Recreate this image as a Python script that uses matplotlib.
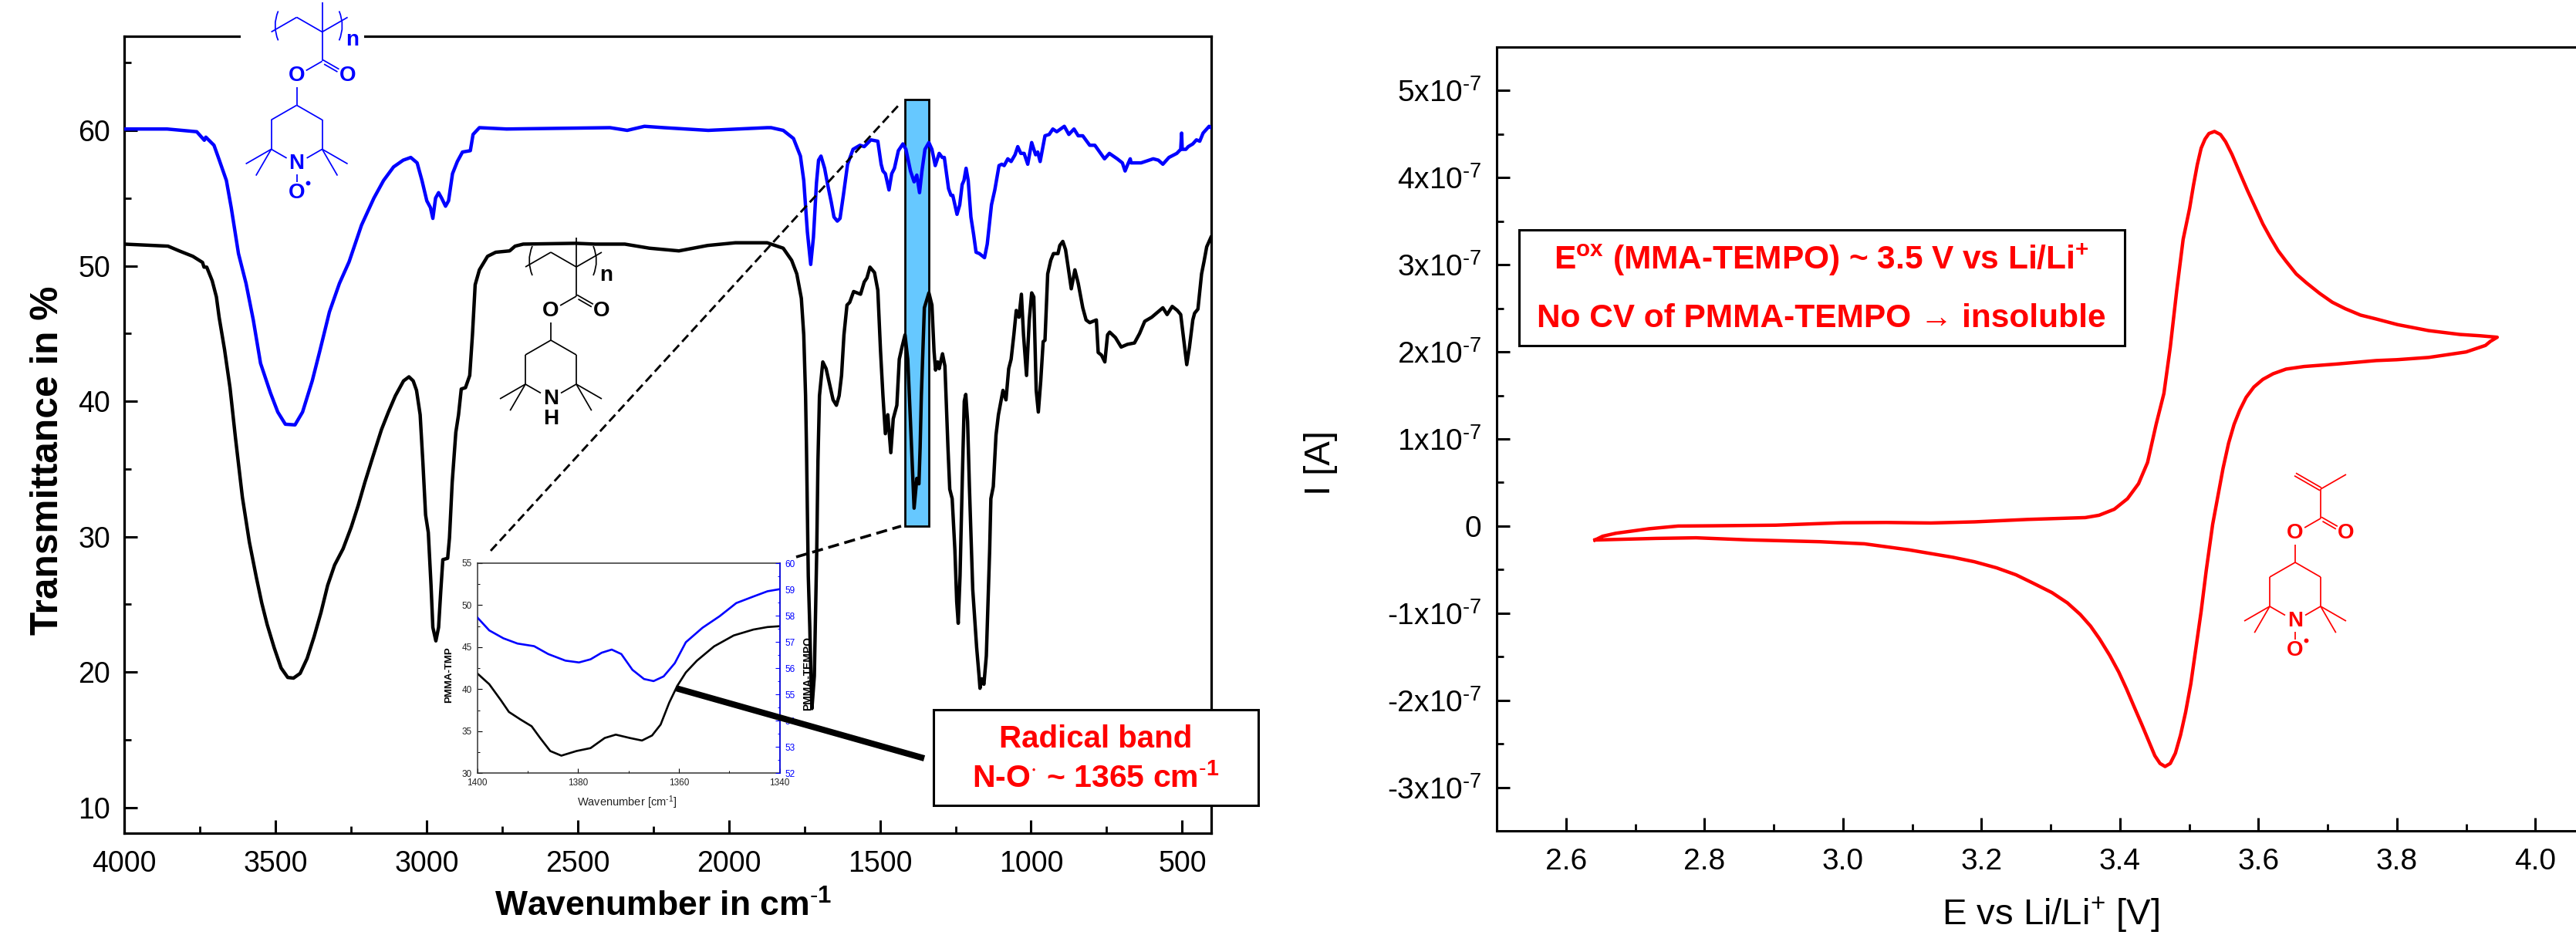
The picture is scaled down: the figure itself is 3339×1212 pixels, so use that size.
import numpy as np
import matplotlib
matplotlib.use("Agg")
import matplotlib.pyplot as plt
from matplotlib.patches import Rectangle, PathPatch
from matplotlib.path import Path
from matplotlib.ticker import MultipleLocator, FixedLocator

plt.rcParams['font.family'] = ['Liberation Sans', 'DejaVu Sans']
plt.rcParams['mathtext.fontset'] = 'custom'
plt.rcParams['mathtext.rm'] = 'Liberation Sans'
plt.rcParams['mathtext.bf'] = 'Liberation Sans:bold'
plt.rcParams['mathtext.it'] = 'Liberation Sans:italic'
plt.rcParams['mathtext.default'] = 'regular'

# ---------- IR spectrum data ----------
blue_wn = [4000,3858,3760,3735,3730,3703,3687,3662,3646,3622,3597,3573,3549,3516,3492,3467,3435,3410,3378,3353,
           3321,3288,3256,3215,3174,3142,3109,3077,3052,3031,3015,2999,2987,2979,2970,2960,2950,2937,2927,2914,
           2898,2881,2855,2846,2825,2735,2393,2336,2279,2215,2068,1873,1860,1820,1786,1763,1752,1740,1729,1720,
           1710,1703,1695,1683,1672,1661,1652,1641,1632,1621,1607,1589,1566,1552,1530,1507,1496,1490,1482,1470,
           1461,1452,1439,1424,1414,1399,1387,1378,1369,1361,1351,1338,1328,1317,1304,1294,1287,1273,1265,1259,
           1245,1236,1228,1222,1215,1208,1199,1190,1182,1171,1154,1145,1131,1120,1106,1097,1089,1077,1066,1053,
           1044,1034,1023,1011,998,985,978,970,954,940,928,915,890,875,858,844,829,806,789,757,741,715,698,689,
           680,672,669,636,596,579,564,544,518,505,502,500,488,480,465,453,442,431,419,411,405]
blue_t = [60.1,60.1,59.9,59.27,59.5,58.9,57.9,56.3,54.3,50.9,48.7,46.0,42.8,40.6,39.2,38.3,38.25,39.2,41.5,43.7,
          46.6,48.7,50.3,53.0,55.0,56.3,57.3,57.8,58.0,57.6,56.3,54.8,54.3,53.5,55.0,55.4,55.0,54.4,54.8,56.8,
          57.7,58.4,58.5,59.7,60.2,60.1,60.2,60.0,60.3,60.2,60.0,60.2,60.2,60.0,59.4,58.1,56.3,52.5,50.1,52.1,
          56.1,57.8,58.1,57.2,55.9,54.7,53.6,53.3,53.5,55.2,57.5,58.6,58.9,58.8,59.3,59.2,57.5,57.0,56.8,55.6,
          56.8,57.2,58.5,59.0,58.6,57.0,56.2,56.7,55.4,57.0,58.6,59.1,58.6,57.4,58.3,58.0,58.0,55.7,55.2,55.2,
          53.8,54.5,56.0,56.3,57.2,56.3,53.6,52.3,51.0,50.9,50.6,51.6,54.5,55.6,57.4,57.5,57.4,57.9,57.7,58.2,
          58.8,58.3,58.3,57.5,59.1,58.2,58.4,57.7,59.6,59.7,60.1,59.9,60.3,59.7,60.1,59.6,59.6,58.9,58.9,57.9,58.3,57.9,57.6,57.0,
          57.5,57.9,57.6,57.6,57.9,57.8,57.5,58.0,58.3,58.6,59.8,58.6,58.6,58.8,59.0,59.3,59.2,59.8,60.1,60.3,60.2]

black_wn = [4000,3855,3818,3773,3741,3736,3727,3709,3695,3686,3668,3650,3632,3609,3586,3563,3545,3527,3504,3481,
            3459,3440,3418,3395,3372,3349,3327,3304,3276,3249,3226,3204,3176,3149,3126,3103,3076,3058,3044,3033,
            3021,3012,3003,2994,2985,2979,2969,2960,2953,2946,2930,2924,2915,2903,2894,2885,2871,2857,2848,2839,
            2825,2798,2771,2725,2707,2680,2507,2442,2344,2263,2165,2070,1978,1873,1860,1820,1792,1775,1760,1752,
            1746,1743,1737,1732,1728,1725,1717,1709,1705,1700,1689,1678,1666,1655,1644,1635,1627,1619,1609,1600,
            1587,1564,1552,1543,1533,1518,1507,1498,1490,1482,1474,1464,1456,1444,1436,1427,1417,1408,1399,1387,
            1378,1371,1367,1363,1353,1338,1328,1321,1316,1309,1304,1293,1285,1275,1269,1261,1252,1246,1241,1235,
            1227,1221,1216,1210,1204,1193,1180,1172,1169,1163,1156,1148,1137,1133,1125,1116,1108,1093,1083,1074,
            1066,1057,1049,1040,1032,1025,1015,1006,998,991,983,976,968,960,954,945,935,926,911,905,895,886,878,
            867,855,844,829,818,806,784,778,767,756,747,740,721,702,681,658,641,624,601,564,550,533,516,505,497,
            485,476,465,459,448,436,428,419,405]
black_t = [51.6,51.45,51.1,50.7,50.25,49.9,49.9,48.9,47.7,46.2,43.8,41.0,37.3,32.9,29.6,27.0,25.1,23.5,21.8,20.3,
           19.6,19.55,19.9,21.0,22.6,24.4,26.4,27.9,29.1,30.7,32.3,34.0,36.0,37.9,39.2,40.4,41.5,41.8,41.5,40.8,
           39.0,35.5,31.6,30.3,26.4,23.3,22.3,23.3,25.9,28.3,28.4,29.9,34.0,37.7,39.0,40.9,41.0,41.9,44.9,48.6,
           49.7,50.7,51.0,51.1,51.45,51.6,51.66,51.6,51.6,51.3,51.1,51.5,51.7,51.7,51.6,51.3,50.4,49.4,47.6,44.9,
           40.4,36.6,27.1,23.3,19.5,17.3,19.7,29.0,35.6,40.4,42.9,42.4,41.2,40.1,39.7,40.4,41.9,44.9,47.1,47.3,
           48.1,47.9,48.8,49.1,49.9,49.5,48.2,43.7,40.4,37.6,39.0,36.2,38.7,39.7,43.1,44.0,44.9,43.1,38.5,32.1,
           34.3,33.9,36.6,40.4,46.9,48.0,47.1,43.7,42.3,42.9,42.4,43.5,42.6,36.6,33.5,32.8,29.0,25.2,23.6,27.1,
           34.7,40.0,40.5,38.5,33.7,26.1,21.8,19.7,18.8,19.5,19.1,21.2,29.0,32.8,33.7,37.5,39.0,40.8,40.1,42.4,
           43.1,44.9,46.7,46.2,47.9,44.9,41.9,46.0,48.0,47.7,40.8,39.2,41.5,44.4,44.5,49.4,50.4,50.9,50.9,51.5,51.8,51.2,50.0,
           48.3,49.7,48.7,46.9,46.0,45.8,46.0,43.6,43.4,42.9,44.9,45.1,44.7,44.0,44.2,44.3,45.0,45.9,46.2,46.9,46.4,47.0,46.7,46.4,44.9,
           42.7,44.0,46.0,46.5,46.8,49.4,50.3,51.4,52.1]

ir_xticks = [4000,3500,3000,2500,2000,1500,1000,500]
ir_yticks = [10,20,30,40,50,60]

# ---------- Inset data ----------
inset_black_wn = [1400,1397.6,1395.3,1393.7,1391.4,1389.2,1387.5,1385.5,1383.3,1380.3,1377.5,1374.7,1372.5,1369.7,
                  1367.3,1365.3,1363.6,1361.9,1360.3,1358.6,1356.4,1353,1349.1,1345.2,1342.4,1340]
inset_black_t = [41.9,40.6,38.7,37.3,36.4,35.6,34.2,32.65,32.1,32.65,33.0,34.2,34.6,34.2,
                 33.9,34.5,35.8,38.4,40.4,42.0,43.4,45.1,46.4,47.1,47.4,47.5]
inset_blue_wn = [1400,1397.6,1394.8,1392,1388.7,1385.9,1382.5,1379.8,1377.5,1375.3,1373.3,1371.4,1369.2,1366.9,
                 1365,1363,1360.8,1358.6,1355.3,1351.9,1348.6,1345.2,1342.4,1340]
inset_blue_t = [57.94,57.44,57.14,56.94,56.84,56.54,56.29,56.22,56.34,56.59,56.71,56.54,55.94,55.59,
                55.51,55.69,56.19,56.99,57.54,57.98,58.48,58.73,58.93,59.01]

# ---------- CV data (I in units of 1e-7 A) ----------
cv_e = [2.642,2.653,2.672,2.720,2.762,2.813,2.903,3.0,3.063,3.127,3.19,3.267,3.350,3.37,3.392,3.411,3.427,3.44,
        3.4524,3.4636,3.4728,3.4821,3.4914,3.5007,3.5063,3.5118,3.5174,3.523,3.5286,3.5367,3.5453,3.5527,3.562,
        3.5731,3.5843,3.5954,3.6065,3.6177,3.6288,3.64,3.6548,3.6697,3.6883,3.7068,3.7254,3.7477,3.77,3.801,3.846,
        3.891,3.92,3.945,3.935,3.928,3.9,3.846,3.8,3.77,3.7142,3.666,3.64,3.6214,3.6065,3.5935,3.5824,3.5731,3.565,
        3.557,3.549,3.534,3.5247,3.5173,3.5099,3.5025,3.495,3.4876,3.4802,3.4728,3.4653,3.458,3.4505,3.4412,3.4319,
        3.4207,3.4096,3.3985,3.3855,3.3706,3.3576,3.3428,3.3242,3.3019,3.274,3.25,3.222,3.19,3.159,3.095,
        3.031,2.967,2.864,2.788,2.73,2.642]
cv_i = [-0.16,-0.117,-0.083,-0.031,0,0.003,0.01,0.038,0.041,0.035,0.048,0.076,0.097,0.124,0.193,0.314,0.487,0.73,
        1.168,1.522,2.053,2.702,3.292,3.646,3.912,4.148,4.339,4.443,4.507,4.531,4.496,4.413,4.266,
        4.059,3.853,3.661,3.469,3.307,3.159,3.041,2.894,2.791,2.673,2.57,2.496,2.422,2.378,2.313,2.244,
        2.2,2.185,2.168,2.12,2.074,1.999,1.936,1.91,1.9,1.861,1.832,1.802,1.749,1.684,1.596,1.478,1.33,1.168,
        0.95,0.662,0.018,-0.513,-0.985,-1.398,-1.811,-2.136,-2.401,-2.608,-2.726,-2.761,-2.726,-2.637,-2.46,-2.283,
        -2.077,-1.87,-1.678,-1.487,-1.295,-1.148,-1.015,-0.882,-0.764,-0.653,-0.56,-0.48,-0.41,-0.359,-0.273,
        -0.204,-0.18,-0.159,-0.135,-0.142,-0.16]
cv_xticks = [2.6,2.8,3.0,3.2,3.4,3.6,3.8,4.0]
cv_yticks = [-3,-2,-1,0,1,2,3,4,5]
cv_ylabels = ['-3x10$^{\\text{-}7}$','-2x10$^{\\text{-}7}$','-1x10$^{\\text{-}7}$','0','1x10$^{\\text{-}7}$',
              '2x10$^{\\text{-}7}$','3x10$^{\\text{-}7}$','4x10$^{\\text{-}7}$','5x10$^{\\text{-}7}$']

W, H = 3339, 1212
fig = plt.figure(figsize=(W/100, H/100), dpi=100, facecolor='white')

def axpx(l, t, r, b, **kw):
    return fig.add_axes([l/W, 1-b/H, (r-l)/W, (b-t)/H], **kw)

# ---------- Left: IR ----------
ax = axpx(161, 47, 1570, 1080)
ax.set_xlim(4000, 404)
ax.set_ylim(8.1, 66.95)
ax.add_patch(Rectangle((1418, 30.77), 1339-1418, 62.28-30.77, fc='#66c8ff', ec='black', lw=2, zorder=1))
ax.plot(blue_wn, blue_t, color='#0000ff', lw=3.2, zorder=3, solid_joinstyle='round')
ax.plot(black_wn, black_t, color='black', lw=3.2, zorder=3, solid_joinstyle='round')
ax.xaxis.set_major_locator(FixedLocator(ir_xticks))
ax.xaxis.set_minor_locator(MultipleLocator(250))
ax.yaxis.set_major_locator(FixedLocator(ir_yticks))
ax.yaxis.set_minor_locator(MultipleLocator(5))
ax.tick_params(which='major', direction='in', length=12.5, width=2.2, labelsize=27, pad=13)
ax.tick_params(which='minor', direction='in', length=6.5, width=2.0)
ax.tick_params(axis='x', which='major', pad=16)
for s in ax.spines.values():
    s.set_linewidth(2.3)

# ---------- Right: CV ----------
ax2 = axpx(1940, 61, 3376, 1077)
ax2.set_xlim(2.5, 4.1)
ax2.set_ylim(-3.5, 5.5)
ax2.plot(cv_e, cv_i, color='#ff0000', lw=3.2, zorder=3)
ax2.xaxis.set_major_locator(FixedLocator(cv_xticks))
ax2.set_xticklabels([f'{v:.1f}' for v in cv_xticks])
ax2.xaxis.set_minor_locator(MultipleLocator(0.1))
ax2.yaxis.set_major_locator(FixedLocator(cv_yticks))
ax2.set_yticklabels(cv_ylabels)
ax2.yaxis.set_minor_locator(MultipleLocator(0.5))
ax2.tick_params(which='major', direction='in', length=12.5, width=2.2, labelsize=28, pad=14)
ax2.tick_params(which='minor', direction='in', length=6.5, width=2.0)
ax2.tick_params(axis='x', which='major', pad=16)
for s in ax2.spines.values():
    s.set_linewidth(2.2)

# ---------- Inset ----------
ins = axpx(618.5, 730, 1010.5, 1002.4, zorder=5)
ins.patch.set_alpha(0)
ins.set_xlim(1400, 1340)
ins.set_ylim(30, 55)
ins.plot(inset_black_wn, inset_black_t, color='black', lw=1.9)
ins.xaxis.set_major_locator(FixedLocator([1400, 1380, 1360, 1340]))
ins.xaxis.set_minor_locator(MultipleLocator(10))
ins.yaxis.set_major_locator(MultipleLocator(5))
ins.yaxis.set_minor_locator(MultipleLocator(2.5))
ins.tick_params(which='major', direction='in', length=4.5, width=0.8, labelsize=8.5, pad=5, labelcolor='#222222')
ins.tick_params(which='minor', direction='in', length=2.5, width=0.7)
ins.set_xticklabels(['1400', '1380', '1360', '1340'])
for s in ins.spines.values():
    s.set_linewidth(1.1)
    s.set_color('#333333')
ins2 = ins.twinx()
ins2.patch.set_alpha(0)
ins2.set_ylim(52, 60)
ins2.plot(inset_blue_wn, inset_blue_t, color='#0000ff', lw=1.9)
ins2.yaxis.set_major_locator(MultipleLocator(1))
ins2.yaxis.set_minor_locator(MultipleLocator(0.5))
ins2.tick_params(axis='y', which='major', direction='in', length=4.5, width=0.8, labelsize=8.5, pad=5,
                 color='#0000ff', labelcolor='#0000ff')
ins2.tick_params(axis='y', which='minor', direction='in', length=2.5, width=0.7, color='#0000ff')
ins2.spines['right'].set_color('#0000ff')
ins2.spines['right'].set_linewidth(1.1)
for k in ('left', 'top', 'bottom'):
    ins2.spines[k].set_visible(False)

# ---------- Overlay in pixel coordinates for annotations ----------
ov = fig.add_axes([0, 0, 1, 1], zorder=10)
ov.set_xlim(0, W)
ov.set_ylim(H, 0)
ov.axis('off')
ov.patch.set_alpha(0)

# gap in top spine behind the blue structure
ov.add_patch(Rectangle((312, 40), 160, 14, fc='white', ec='none', zorder=0))

# Dashed guides and pointer line
ov.plot([636, 1167], [714, 134], color='black', lw=2.1, ls=(0, (4, 2)))
ov.plot([1032, 1168], [722, 682], color='black', lw=2.6, ls=(0, (4, 2)))
ov.plot([876, 1198], [892, 983], color='black', lw=5.8, solid_capstyle='butt')

# Axis labels
ov.text(62, 597, 'Transmittance in %', rotation=90, ha='center', va='center', fontsize=35.7, fontweight='bold')
ov.text(860, 1175, 'Wavenumber in cm$^{\\mathbf{\\text{-}1}}$', ha='center', va='center', fontsize=32, fontweight='bold')
ov.text(1712, 600, 'I [A]', rotation=90, ha='center', va='center', fontsize=34)
ov.text(2658, 1199, 'E vs Li/Li$^{+}$ [V]', ha='center', va='baseline', fontsize=34)
ov.text(582, 875, 'PMMA-TMP', rotation=90, ha='center', va='center', fontsize=9.5, fontweight='bold')
ov.text(1047, 873, 'PMMA-TEMPO', rotation=90, ha='center', va='center', fontsize=10, fontweight='bold')
ov.text(813, 1040, 'Wavenumber [cm$^{\\text{-}1}$]', ha='center', va='center', fontsize=10.5, color='#222222')

# Text boxes
ov.add_patch(Rectangle((1210, 920), 421, 124, fc='white', ec='black', lw=2.2, zorder=6))
ov.text(1420, 958, 'Radical band', color='#ff0000', fontsize=29, fontweight='bold', ha='center', va='center', zorder=7)
ov.text(1420, 1009, 'N-O$^{\\cdot}$ ~ 1365 cm$^{\\text{-}1}$', color='#ff0000', fontsize=29.5, fontweight='bold',
        ha='center', va='center', zorder=7)
ov.add_patch(Rectangle((1969, 298), 785, 150, fc='white', ec='black', lw=2.2, zorder=6))
ov.text(2361, 337, 'E$^{ox}$ (MMA-TEMPO) ~ 3.5 V vs Li/Li$^{+}$', color='#ff0000', fontsize=30.5, fontweight='bold',
        ha='center', va='center', zorder=7)
ov.text(2361, 413, 'No CV of PMMA-TEMPO \u2192 insoluble', color='#ff0000', fontsize=30.5, fontweight='bold',
        ha='center', va='center', zorder=7)

# Structures
def molecule(cx, cy, color, polymer=True, nitroxide=True):
    U, V = 33, 19
    P = lambda a, b: np.array([cx + a*U, cy + b*V], float)
    lw = 1.25
    def seg(a, b, ga=0, gb=0, off=0):
        a, b = np.array(a, float), np.array(b, float)
        d = (b-a)/np.hypot(*(b-a))
        n = np.array([-d[1], d[0]])
        s = a + d*ga + n*off
        e = b - d*gb + n*off
        ov.plot([s[0], e[0]], [s[1], e[1]], color=color, lw=lw, solid_capstyle='butt')
    # ring
    seg(P(0, 0), P(1, 1)); seg(P(1, 1), P(1, 3)); seg(P(0, 0), P(-1, 1)); seg(P(-1, 1), P(-1, 3))
    seg(P(1, 3), P(0, 4), 0, 15); seg(P(-1, 3), P(0, 4), 0, 15)
    # methyls
    for sx in (-1, 1):
        seg(P(sx, 3), P(2*sx, 4)); seg(P(sx, 3), P(1.6*sx, 4.8))
    # ester
    seg(P(0, 0), P(0, -2), 0, 15)
    seg(P(1, -3), P(0, -2), 0, 14)
    seg(P(1, -3), P(2, -2), 0, 14, off=-2); seg(P(1, -3), P(2, -2), 4, 14, off=2)
    seg(P(1, -3), P(1, -5))
    lab = dict(color=color, fontsize=20, fontweight='bold', ha='center', va='center')
    ov.text(*P(0, -2), 'O', **lab); ov.text(*P(2, -2), 'O', **lab); ov.text(*P(0, 4), 'N', **lab)
    if polymer:
        seg(P(-1, -5), P(0, -6)); seg(P(0, -6), P(1, -5)); seg(P(1, -5), P(2, -6)); seg(P(1, -5), P(1, -7))
        for x0, bend in ((-24, -8), (55, 8)):
            v = [(cx+x0, cy-122), (cx+x0+bend, cy-103), (cx+x0, cy-84)]
            ov.add_patch(PathPatch(Path(v, [Path.MOVETO, Path.CURVE3, Path.CURVE3]), fc='none', ec=color, lw=lw))
        ov.text(cx+72, cy-84, 'n', **lab)
    else:
        seg(P(1, -5), P(0, -6), off=-2); seg(P(1, -5), P(0, -6), off=2); seg(P(1, -5), P(2, -6))
    if nitroxide:
        seg(P(0, 4), P(0, 6), 14, 14)
        ov.text(*P(0, 6), 'O', **lab)
        ov.plot([cx+14], [cy+101], 'o', color=color, ms=3.2)
    else:
        ov.text(*P(0, 5.35), 'H', **lab)

molecule(384.6, 136.4, '#0000ff', True, True)
molecule(714, 441, 'black', True, False)
molecule(2975, 729, '#ff0000', False, True)

fig.savefig('out.png', dpi=100, facecolor='white')
